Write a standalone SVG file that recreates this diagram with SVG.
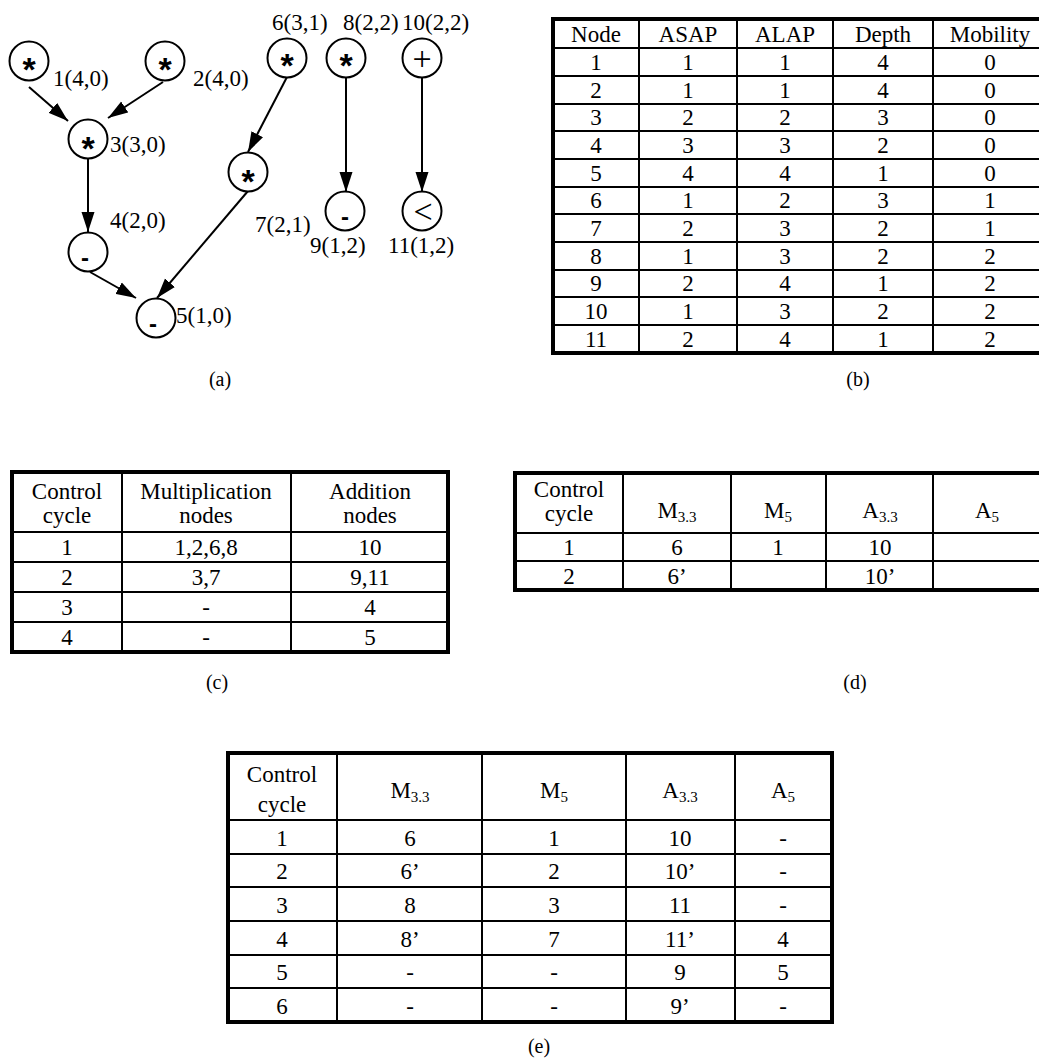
<svg xmlns="http://www.w3.org/2000/svg" width="1039" height="1059" viewBox="0 0 1039 1059">
<defs>
<marker id="ah" markerUnits="userSpaceOnUse" markerWidth="20" markerHeight="14" refX="20" refY="7" orient="auto">
<path d="M0,0.5 L20,7 L0,13.5 z" fill="#000"/>
</marker>
<style>
.t{font-family:"Liberation Serif","Times New Roman",serif;font-size:23px;fill:#000}
.c{text-anchor:middle}
.cap{font-family:"Liberation Serif","Times New Roman",serif;font-size:20px;text-anchor:middle;fill:#000}
.node{fill:#fff;stroke:#000;stroke-width:2}
.sym{font-family:"Liberation Sans",Arial,sans-serif;font-weight:bold;text-anchor:middle;fill:#000}
.ast{font-size:34px}
.symt{font-family:"Liberation Serif","Times New Roman",serif;text-anchor:middle;fill:#000}
.edge{stroke:#000;stroke-width:2;fill:none;marker-end:url(#ah)}
.outer{fill:none;stroke:#000;stroke-width:4}
.grid{stroke:#000;stroke-width:2;fill:none}
.sub{font-size:15px}
</style>
</defs>
<rect width="1039" height="1059" fill="#fff"/>

<!-- (a) graph -->
<g id="connectors">
<line class="edge" x1="29" y1="87" x2="68" y2="121"/>
<line class="edge" x1="163" y1="82" x2="108" y2="118"/>
<line class="edge" x1="88" y1="158" x2="88" y2="232"/>
<line class="edge" x1="90" y1="272" x2="136" y2="298"/>
<line class="edge" x1="248" y1="191" x2="157" y2="298"/>
<line class="edge" x1="287" y1="77" x2="248" y2="152"/>
<line class="edge" x1="346" y1="77" x2="346" y2="192"/>
<line class="edge" x1="422" y1="77" x2="422" y2="192"/>
</g>

<g id="node1"><circle class="node" cx="29" cy="61" r="19.5"/><text class="sym ast" x="29" y="81">*</text><text class="t" x="53" y="86">1(4,0)</text></g>
<g id="node2"><circle class="node" cx="165" cy="61" r="19.5"/><text class="sym ast" x="165" y="81">*</text><text class="t" x="193" y="86">2(4,0)</text></g>
<g id="node3"><circle class="node" cx="88" cy="139" r="19.5"/><text class="sym ast" x="88" y="160">*</text><text class="t" x="110" y="152">3(3,0)</text></g>
<g id="node4"><circle class="node" cx="88" cy="252" r="19.5"/><text class="sym" x="85" y="266" font-size="24">-</text><text class="t" x="110" y="228">4(2,0)</text></g>
<g id="node5"><circle class="node" cx="156" cy="318" r="19.5"/><text class="sym" x="153" y="332" font-size="24">-</text><text class="t" x="176" y="323">5(1,0)</text></g>
<g id="node6"><circle class="node" cx="287" cy="58" r="19.5"/><text class="sym ast" x="287" y="77">*</text><text class="t" x="272" y="30">6(3,1)</text></g>
<g id="node7"><circle class="node" cx="248" cy="172" r="19.5"/><text class="sym ast" x="248" y="193">*</text><text class="t" x="255" y="232">7(2,1)</text></g>
<g id="node8"><circle class="node" cx="346" cy="58" r="19.5"/><text class="sym ast" x="346" y="77">*</text><text class="t" x="343" y="30">8(2,2)</text></g>
<g id="node9"><circle class="node" cx="345" cy="211" r="19.5"/><text class="sym" x="345" y="225" font-size="24">-</text><text class="t" x="310" y="253">9(1,2)</text></g>
<g id="node10"><circle class="node" cx="422" cy="58" r="19.5"/><text class="symt" x="422" y="70" font-size="34">+</text><text class="t" x="402" y="30">10(2,2)</text></g>
<g id="node11"><circle class="node" cx="422" cy="211" r="19.5"/><text class="symt" x="423" y="223" font-size="34">&lt;</text><text class="t" x="388" y="253">11(1,2)</text></g>
<text class="cap" x="220" y="386">(a)</text>

<!-- (b) table -->
<g id="tableB">
<rect class="outer" x="553" y="19" width="500" height="334"/>
<path class="grid" d="M639,19V353 M737,19V353 M833,19V353 M933,19V353 M553,48H1053 M553,76H1053 M553,104H1053 M553,131H1053 M553,159H1053 M553,187H1053 M553,214H1053 M553,242H1053 M553,270H1053 M553,297H1053 M553,325H1053"/>
<g class="t c">
<text x="596" y="42">Node</text><text x="688" y="42">ASAP</text><text x="785" y="42">ALAP</text><text x="883" y="42">Depth</text><text x="990" y="42">Mobility</text>
<text x="596" y="70">1</text><text x="688" y="70">1</text><text x="785" y="70">1</text><text x="883" y="70">4</text><text x="990" y="70">0</text>
<text x="596" y="98">2</text><text x="688" y="98">1</text><text x="785" y="98">1</text><text x="883" y="98">4</text><text x="990" y="98">0</text>
<text x="596" y="125">3</text><text x="688" y="125">2</text><text x="785" y="125">2</text><text x="883" y="125">3</text><text x="990" y="125">0</text>
<text x="596" y="153">4</text><text x="688" y="153">3</text><text x="785" y="153">3</text><text x="883" y="153">2</text><text x="990" y="153">0</text>
<text x="596" y="181">5</text><text x="688" y="181">4</text><text x="785" y="181">4</text><text x="883" y="181">1</text><text x="990" y="181">0</text>
<text x="596" y="208">6</text><text x="688" y="208">1</text><text x="785" y="208">2</text><text x="883" y="208">3</text><text x="990" y="208">1</text>
<text x="596" y="236">7</text><text x="688" y="236">2</text><text x="785" y="236">3</text><text x="883" y="236">2</text><text x="990" y="236">1</text>
<text x="596" y="264">8</text><text x="688" y="264">1</text><text x="785" y="264">3</text><text x="883" y="264">2</text><text x="990" y="264">2</text>
<text x="596" y="291">9</text><text x="688" y="291">2</text><text x="785" y="291">4</text><text x="883" y="291">1</text><text x="990" y="291">2</text>
<text x="596" y="319">10</text><text x="688" y="319">1</text><text x="785" y="319">3</text><text x="883" y="319">2</text><text x="990" y="319">2</text>
<text x="596" y="347">11</text><text x="688" y="347">2</text><text x="785" y="347">4</text><text x="883" y="347">1</text><text x="990" y="347">2</text>
</g>
</g>
<text class="cap" x="858" y="386">(b)</text>

<!-- (c) table -->
<g id="tableC">
<rect class="outer" x="12" y="472" width="436" height="180"/>
<path class="grid" d="M122,472V652 M291,472V652 M12,532H448 M12,562H448 M12,592H448 M12,622H448"/>
<g class="t c">
<text x="67" y="499">Control</text><text x="67" y="523">cycle</text>
<text x="206" y="499">Multiplication</text><text x="206" y="523">nodes</text>
<text x="370" y="499">Addition</text><text x="370" y="523">nodes</text>
<text x="67" y="555">1</text><text x="206" y="555">1,2,6,8</text><text x="370" y="555">10</text>
<text x="67" y="585">2</text><text x="206" y="585">3,7</text><text x="370" y="585">9,11</text>
<text x="67" y="615">3</text><text x="206" y="615">-</text><text x="370" y="615">4</text>
<text x="67" y="645">4</text><text x="206" y="645">-</text><text x="370" y="645">5</text>
</g>
</g>
<text class="cap" x="217" y="689">(c)</text>

<!-- (d) table -->
<g id="tableD">
<rect class="outer" x="515" y="473" width="540" height="117"/>
<path class="grid" d="M623,473V590 M731,473V590 M826,473V590 M933,473V590 M515,533H1055 M515,561H1055"/>
<g class="t c">
<text x="569" y="497">Control</text><text x="569" y="521">cycle</text>
<text x="677" y="518">M<tspan class="sub" dy="4">3.3</tspan></text>
<text x="778" y="518">M<tspan class="sub" dy="4">5</tspan></text>
<text x="880" y="518">A<tspan class="sub" dy="4">3.3</tspan></text>
<text x="987" y="518">A<tspan class="sub" dy="4">5</tspan></text>
<text x="569" y="555">1</text><text x="677" y="555">6</text><text x="778" y="555">1</text><text x="880" y="555">10</text>
<text x="569" y="584">2</text><text x="677" y="584">6’</text><text x="880" y="584">10’</text>
</g>
</g>
<text class="cap" x="855" y="689">(d)</text>

<!-- (e) table -->
<g id="tableE">
<rect class="outer" x="228" y="753" width="604" height="269"/>
<path class="grid" d="M337,753V1022 M482,753V1022 M626,753V1022 M735,753V1022 M228,820H832 M228,854H832 M228,887H832 M228,921H832 M228,955H832 M228,988H832"/>
<g class="t c">
<text x="282" y="782">Control</text><text x="282" y="812">cycle</text>
<text x="410" y="798">M<tspan class="sub" dy="4">3.3</tspan></text>
<text x="554" y="798">M<tspan class="sub" dy="4">5</tspan></text>
<text x="680" y="798">A<tspan class="sub" dy="4">3.3</tspan></text>
<text x="783" y="798">A<tspan class="sub" dy="4">5</tspan></text>
<text x="282" y="846">1</text><text x="410" y="846">6</text><text x="554" y="846">1</text><text x="680" y="846">10</text><text x="783" y="846">-</text>
<text x="282" y="879">2</text><text x="410" y="879">6’</text><text x="554" y="879">2</text><text x="680" y="879">10’</text><text x="783" y="879">-</text>
<text x="282" y="913">3</text><text x="410" y="913">8</text><text x="554" y="913">3</text><text x="680" y="913">11</text><text x="783" y="913">-</text>
<text x="282" y="947">4</text><text x="410" y="947">8’</text><text x="554" y="947">7</text><text x="680" y="947">11’</text><text x="783" y="947">4</text>
<text x="282" y="980">5</text><text x="410" y="980">-</text><text x="554" y="980">-</text><text x="680" y="980">9</text><text x="783" y="980">5</text>
<text x="282" y="1014">6</text><text x="410" y="1014">-</text><text x="554" y="1014">-</text><text x="680" y="1014">9’</text><text x="783" y="1014">-</text>
</g>
</g>
<text class="cap" x="539" y="1053">(e)</text>
</svg>
